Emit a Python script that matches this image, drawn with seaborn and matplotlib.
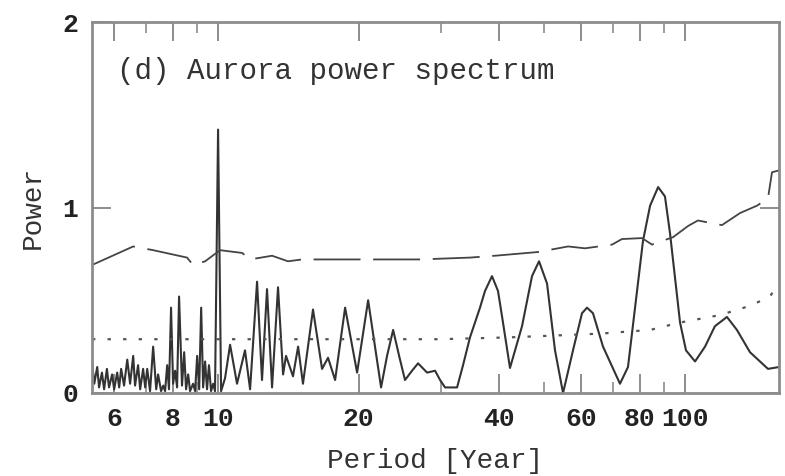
import matplotlib
matplotlib.use("Agg")
import matplotlib.pyplot as plt
import matplotlib.ticker as mticker
import seaborn as sns
import pandas as pd

# ---- data ----
period = [5.37, 5.43, 5.51, 5.56, 5.64, 5.70, 5.78, 5.84, 5.93, 5.99,
          6.08, 6.14, 6.20, 6.29, 6.39, 6.48, 6.58, 6.64, 6.74, 6.81,
          6.91, 6.98, 7.05, 7.15, 7.26, 7.37, 7.44, 7.55, 7.63, 7.70,
          7.78, 7.85, 7.93, 8.01, 8.09, 8.17, 8.25, 8.37, 8.46, 8.54,
          8.63, 8.71, 8.84, 8.93, 9.02, 9.11, 9.20, 9.29, 9.38, 9.47,
          9.56, 9.66, 9.76, 9.85, 10.0, 10.15, 10.35, 10.61, 10.98, 11.42,
          11.71, 12.12, 12.42, 12.73, 13.05, 13.44, 13.78, 13.98, 14.47, 14.84,
          15.20, 15.97, 16.70, 17.20, 17.81, 18.71, 19.85, 20.96, 22.34, 23.01,
          23.71, 24.42, 25.14, 26.03, 26.81, 28.03, 29.16, 29.89, 30.63, 32.50,
          33.47, 34.64, 36.39, 37.30, 38.61, 39.77, 40.76, 42.19, 44.77, 47.03,
          48.69, 50.65, 52.68, 54.81, 57.57, 60.18, 61.69, 63.53, 66.75, 72.58,
          75.50, 78.92, 81.3, 84.2, 87.6, 90.6, 92.9, 95.2, 97.6, 100.5,
          105.1, 110.4, 115.9, 123.0, 129.2, 137.8, 150.6, 159.0]
power = [0.17, 0.05, 0.14, 0.03, 0.11, 0.02, 0.13, 0.03, 0.10, 0.02,
         0.11, 0.03, 0.13, 0.04, 0.18, 0.05, 0.20, 0.04, 0.15, 0.02,
         0.13, 0.03, 0.13, 0.01, 0.25, 0.02, 0.10, 0.01, 0.04, 0.01,
         0.15, 0.02, 0.46, 0.05, 0.12, 0.03, 0.52, 0.04, 0.22, 0.02,
         0.10, 0.01, 0.05, 0.01, 0.20, 0.02, 0.46, 0.03, 0.17, 0.02,
         0.15, 0.01, 0.05, 0.01, 1.42, 0.01, 0.08, 0.26, 0.05, 0.23,
         0.02, 0.60, 0.07, 0.56, 0.03, 0.57, 0.10, 0.20, 0.09, 0.25,
         0.05, 0.45, 0.13, 0.19, 0.07, 0.46, 0.11, 0.50, 0.03, 0.20,
         0.34, 0.20, 0.07, 0.12, 0.16, 0.11, 0.12, 0.07, 0.03, 0.03,
         0.15, 0.30, 0.46, 0.55, 0.63, 0.55, 0.38, 0.135, 0.36, 0.63,
         0.71, 0.59, 0.23, 0.00, 0.23, 0.43, 0.46, 0.43, 0.25, 0.05,
         0.14, 0.55, 0.82, 1.01, 1.11, 1.06, 0.86, 0.62, 0.38, 0.23,
         0.17, 0.25, 0.36, 0.41, 0.34, 0.22, 0.13, 0.14]

conf_period = [5.37, 6.58, 7.26, 8.58, 8.84, 9.38, 10.10, 11.26, 11.71, 13.05,
               14.12, 15.13, 18.71, 27.07, 34.64, 39.19, 48.45, 56.19, 61.08, 69.8,
               73.3, 80.9, 85.0, 90.6, 94.3, 101.5, 106.6, 120.0, 131.2, 142.7,
               150.6, 153.6, 159.0]
conf_high = [0.69, 0.79, 0.77, 0.73, 0.69, 0.71, 0.77, 0.755, 0.72, 0.74,
             0.71, 0.72, 0.72, 0.72, 0.73, 0.74, 0.76, 0.79, 0.78, 0.80,
             0.83, 0.835, 0.80, 0.825, 0.84, 0.90, 0.93, 0.905, 0.97, 1.01,
             1.05, 1.19, 1.20]

mean_period = [5.37, 29.9, 42.2, 65.8, 84.2, 97.6, 118.8, 137.8, 152.1, 157.4]
mean_level = [0.29, 0.29, 0.30, 0.32, 0.34, 0.38, 0.42, 0.47, 0.52, 0.58]

xticks = [6, 8, 10, 20, 40, 60, 80, 100]
yticks = [0, 1, 2]

# ---- plot ----
sns.set_style("ticks")
plt.rcParams["font.family"] = ["Liberation Mono", "DejaVu Sans Mono"]

fig = plt.figure(figsize=(7.85, 4.76), dpi=100)
ax = fig.add_axes([92 / 785, 83 / 476, 687 / 785, 371 / 476])

line_col = "#333333"
frame_col = "#8c8c8c"

spec = pd.DataFrame({"Period": period, "Power": power})
conf = pd.DataFrame({"Period": conf_period, "Power": conf_high})
mean = pd.DataFrame({"Period": mean_period, "Power": mean_level})

sns.lineplot(data=spec, x="Period", y="Power", ax=ax, color=line_col,
             linewidth=1.5, estimator=None, sort=False)
sns.lineplot(data=conf, x="Period", y="Power", ax=ax, color="#444444",
             linewidth=1.3, estimator=None, sort=False,
             linestyle=(0, (26, 7)))
sns.lineplot(data=mean, x="Period", y="Power", ax=ax, color="#555555",
             linewidth=1.6, estimator=None, sort=False,
             linestyle=(0, (1.5, 5.5)))

ax.set_xscale("log")
ax.set_xlim(5.37, 159)
ax.set_ylim(0, 2)

ax.xaxis.set_major_locator(mticker.FixedLocator(xticks))
ax.xaxis.set_major_formatter(mticker.FixedFormatter([str(t) for t in xticks]))
ax.xaxis.set_minor_locator(mticker.LogLocator(base=10, subs=range(1, 10), numticks=20))
ax.xaxis.set_minor_formatter(mticker.NullFormatter())
ax.set_yticks(yticks)
ax.set_yticklabels([str(t) for t in yticks])

for s in ax.spines.values():
    s.set_color(frame_col)
    s.set_linewidth(2)
    s.set_visible(True)

ax.tick_params(axis="both", which="major", direction="in", top=True, right=True,
               length=14, width=1.4, color=frame_col, labelsize=19, pad=10)
ax.tick_params(axis="x", which="minor", direction="in", top=True, bottom=True,
               length=8, width=1.2, color=frame_col)
ax.tick_params(axis="y", which="minor", left=False, right=False)
for lab in ax.get_xticklabels() + ax.get_yticklabels():
    lab.set_fontweight("bold")
    lab.set_color("#222222")

ax.set_xlabel("Period [Year]", fontsize=20, color="#333333", labelpad=12)
ax.set_ylabel("Power", fontsize=20, color="#333333", labelpad=12)

ax.text(0.036, 0.868, "(d) Aurora power spectrum", transform=ax.transAxes,
        fontsize=21, color="#333333", ha="left", va="center")

fig.savefig("out.png", dpi=100)
